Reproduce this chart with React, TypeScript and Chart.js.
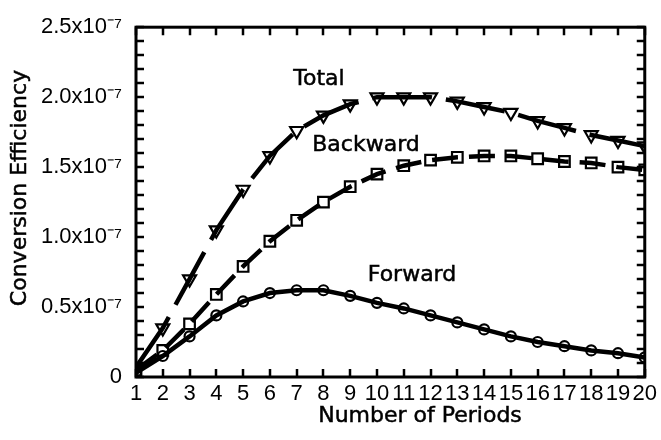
import { useEffect, useRef } from "react";
import { Chart, registerables } from "chart.js";

Chart.register(...registerables);

// Number of periods (x axis)
const periods = [1, 2, 3, 4, 5, 6, 7, 8, 9, 10, 11, 12, 13, 14, 15, 16, 17, 18, 19, 20];
// Conversion efficiency, in units of 1e-7
const totalEff = [0.07, 0.35, 0.70, 1.05, 1.34, 1.58, 1.76, 1.87, 1.95, 2.0, 2.0, 2.0, 1.97, 1.93, 1.89, 1.83, 1.78, 1.73, 1.69, 1.65];
const backwardEff = [0.05, 0.19, 0.38, 0.59, 0.79, 0.97, 1.12, 1.25, 1.36, 1.45, 1.51, 1.55, 1.57, 1.58, 1.58, 1.56, 1.54, 1.53, 1.5, 1.48];
const forwardEff = [0.03, 0.15, 0.29, 0.44, 0.54, 0.6, 0.62, 0.62, 0.58, 0.53, 0.49, 0.44, 0.39, 0.34, 0.29, 0.25, 0.22, 0.19, 0.17, 0.14];
// Major y tick labels (every 0.5e-7)
const yTickLabels = ["0", "0.5x10⁻⁷", "1.0x10⁻⁷", "1.5x10⁻⁷", "2.0x10⁻⁷", "2.5x10⁻⁷"];
const seriesNames = ["Total", "Backward", "Forward"];
const xTitle = "Number of Periods";
const yTitle = "Conversion Efficiency";

const TITLE_FONT = '22px "DejaVu Sans"';

const drawText = (ctx: any, s: string, x: number, y: number) => {
  ctx.fillText(s, x, y);
  ctx.strokeText(s, x, y);
};

const framePlugin = {
  id: "frameAndText",
  afterDatasetsDraw(chart: any) {
    const { ctx, chartArea: a, scales } = chart;
    const xs = scales.x;
    const ys = scales.y;
    ctx.save();
    ctx.strokeStyle = "#000";
    // ticks inside
    ctx.lineWidth = 2.5;
    const tl = 8;
    ctx.beginPath();
    for (let i = 0; i <= 25; i++) {
      const y = Math.round(ys.getPixelForValue(i / 10));
      ctx.moveTo(a.left, y);
      ctx.lineTo(a.left + tl, y);
      ctx.moveTo(a.right, y);
      ctx.lineTo(a.right - tl, y);
    }
    for (const p of periods) {
      const x = Math.round(xs.getPixelForValue(p));
      ctx.moveTo(x, a.bottom);
      ctx.lineTo(x, a.bottom - tl);
      ctx.moveTo(x, a.top);
      ctx.lineTo(x, a.top + tl);
    }
    ctx.stroke();
    // frame
    ctx.lineWidth = 3;
    ctx.strokeRect(a.left, a.top, a.right - a.left, a.bottom - a.top);

    // annotations
    ctx.fillStyle = "#000";
    ctx.lineWidth = 0.5;
    ctx.font = TITLE_FONT;
    ctx.textAlign = "center";
    ctx.textBaseline = "middle";
    drawText(ctx, seriesNames[0], 319, 79);
    drawText(ctx, seriesNames[1], 366, 145);
    drawText(ctx, seriesNames[2], 412, 275);

    // axis titles
    drawText(ctx, xTitle, 420, 416);
    ctx.translate(20, 188);
    ctx.rotate(-Math.PI / 2);
    drawText(ctx, yTitle, 0, 0);
    ctx.restore();
  },
};

export default function App() {
  const ref = useRef<HTMLCanvasElement>(null);
  useEffect(() => {
    const mk = (x: number[]) => periods.map((p, i) => ({ x: p, y: x[i] }));
    const chart = new Chart(ref.current as HTMLCanvasElement, {
      type: "line",
      data: {
        datasets: [
          {
            label: seriesNames[0],
            data: mk(totalEff),
            borderColor: "#000",
            borderWidth: 4.5,
            borderDash: [60, 14],
            pointStyle: "triangle",
            pointRotation: 180,
            pointRadius: 7.5,
            pointBorderWidth: 2.2,
            pointBorderColor: "#000",
            pointBackgroundColor: "rgba(0,0,0,0)",
          },
          {
            label: seriesNames[1],
            data: mk(backwardEff),
            borderColor: "#000",
            borderWidth: 4.5,
            borderDash: [26, 11],
            pointStyle: "rect",
            pointRadius: 7.5,
            pointBorderWidth: 2.2,
            pointBorderColor: "#000",
            pointBackgroundColor: "rgba(0,0,0,0)",
          },
          {
            label: seriesNames[2],
            data: mk(forwardEff),
            borderColor: "#000",
            borderWidth: 4.5,
            pointStyle: "circle",
            pointRadius: 5,
            pointBorderWidth: 2.2,
            pointBorderColor: "#000",
            pointBackgroundColor: "rgba(0,0,0,0)",
          },
        ],
      },
      options: {
        animation: false,
        responsive: true,
        maintainAspectRatio: false,
        layout: { padding: { left: 0, top: 20, right: 12, bottom: 0 } },
        plugins: { legend: { display: false }, tooltip: { enabled: false } },
        scales: {
          x: {
            type: "linear",
            min: 1,
            max: 20,
            grid: { display: false, drawTicks: false },
            border: { display: false },
            afterFit: (s: any) => {
              s.height = 63;
            },
            ticks: {
              stepSize: 1,
              autoSkip: false,
              maxRotation: 0,
              padding: 4,
              color: "#000",
              font: { family: '"Liberation Sans"', size: 22 },
              callback: (v: any) => String(v),
            },
          },
          y: {
            type: "linear",
            min: 0,
            max: 2.5,
            grid: { display: false, drawTicks: false },
            border: { display: false },
            afterFit: (s: any) => {
              s.width = 136;
            },
            ticks: {
              stepSize: 0.1,
              autoSkip: false,
              padding: 14,
              color: "#000",
              font: { family: '"Liberation Sans"', size: 22 },
              callback: (v: any) => {
                const i = Math.round(Number(v) * 10);
                return i % 5 === 0 ? yTickLabels[i / 5] : "";
              },
            },
          },
        },
      },
      plugins: [framePlugin],
    });
    return () => chart.destroy();
  }, []);
  return (
    <div style={{ position: "fixed", left: 0, top: 0, width: 661, height: 440, background: "#fff" }}>
      <canvas ref={ref} />
    </div>
  );
}
